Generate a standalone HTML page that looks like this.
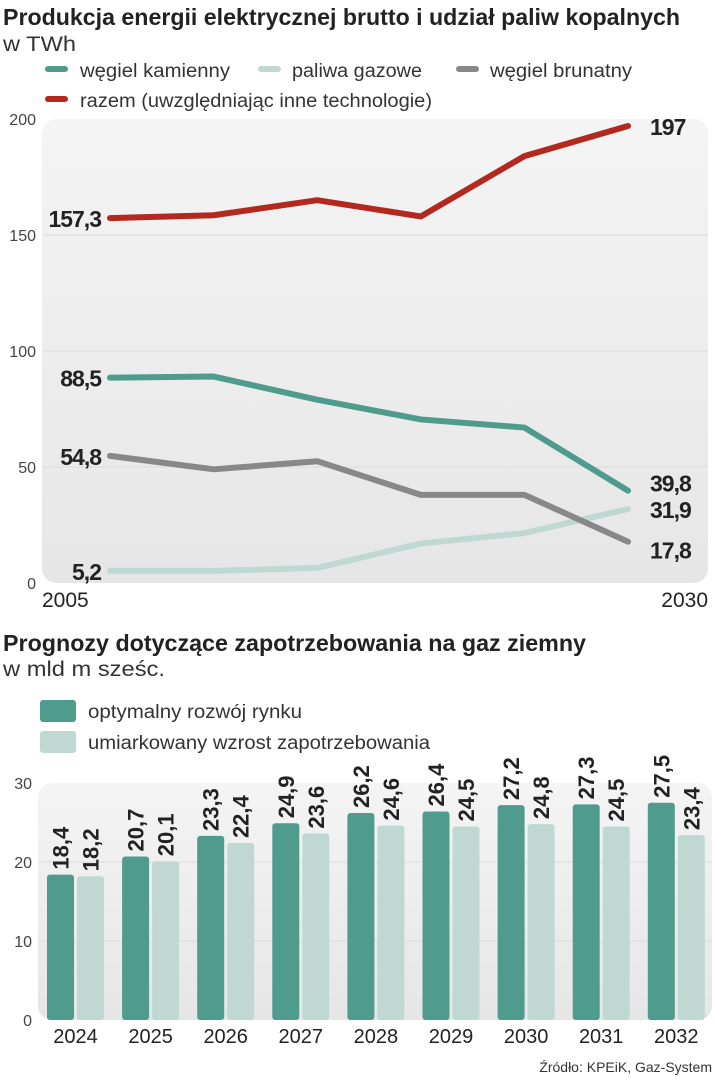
<!DOCTYPE html>
<html><head><meta charset="utf-8"><style>
html,body{margin:0;padding:0;background:#fff}
svg{display:block;font-family:"Liberation Sans",sans-serif}
</style></head><body>
<svg id="s" width="715" height="1080" viewBox="0 0 715 1080" xmlns="http://www.w3.org/2000/svg">
<defs>
<linearGradient id="bg" x1="0" y1="0" x2="0" y2="1"><stop offset="0" stop-color="#f4f4f4"/><stop offset="1" stop-color="#e6e6e6"/></linearGradient>
</defs>
<text x="3" y="25" font-size="23" font-weight="bold" fill="#222" textLength="677" lengthAdjust="spacingAndGlyphs">Produkcja energii elektrycznej brutto i udział paliw kopalnych</text>
<text x="3" y="51" font-size="21" fill="#333" textLength="73" lengthAdjust="spacingAndGlyphs">w TWh</text>
<g>
<g><line x1="48" y1="69" x2="65" y2="69" stroke="#4f9c8e" stroke-width="6" stroke-linecap="round"/><text x="80" y="77" font-size="19" fill="#333" textLength="150" lengthAdjust="spacingAndGlyphs">węgiel kamienny</text></g>
<g><line x1="261" y1="69" x2="278" y2="69" stroke="#bfd9d2" stroke-width="6" stroke-linecap="round"/><text x="292" y="77" font-size="19" fill="#333" textLength="130" lengthAdjust="spacingAndGlyphs">paliwa gazowe</text></g>
<g><line x1="459" y1="69" x2="476" y2="69" stroke="#888" stroke-width="6" stroke-linecap="round"/><text x="490" y="77" font-size="19" fill="#333" textLength="142" lengthAdjust="spacingAndGlyphs">węgiel brunatny</text></g>
<g><line x1="48" y1="99" x2="65" y2="99" stroke="#b3291f" stroke-width="6" stroke-linecap="round"/><text x="80" y="107" font-size="19" fill="#333" textLength="352" lengthAdjust="spacingAndGlyphs">razem (uwzględniając inne technologie)</text></g>
</g>
<rect x="42" y="119" width="666" height="464" rx="14" fill="url(#bg)"/>
<g id="lc"></g>
<text x="3" y="651" font-size="23" font-weight="bold" fill="#222" textLength="583" lengthAdjust="spacingAndGlyphs">Prognozy dotyczące zapotrzebowania na gaz ziemny</text>
<text x="3" y="676" font-size="21" fill="#333" textLength="162" lengthAdjust="spacingAndGlyphs">w mld m sześc.</text>
<g>
<g><rect x="40" y="700" width="36" height="22" rx="3" fill="#4f9c8e"/><text x="88" y="718" font-size="19" fill="#333" textLength="214" lengthAdjust="spacingAndGlyphs">optymalny rozwój rynku</text></g>
<g><rect x="40" y="731" width="36" height="22" rx="3" fill="#bfd9d2"/><text x="88" y="749" font-size="19" fill="#333" textLength="342" lengthAdjust="spacingAndGlyphs">umiarkowany wzrost zapotrzebowania</text></g>
</g>
<rect x="38" y="783" width="674" height="237" rx="14" fill="url(#bg)"/>
<g id="bc"></g>
<text x="712" y="1072" font-size="14" fill="#333" text-anchor="end">Źródło: KPEiK, Gaz-System</text>
</svg>
<script>
const NS="http://www.w3.org/2000/svg";
const lineYears=[2005,2010,2015,2020,2025,2030];
const razem=[157.3,158.5,165,158,184,197];
const kamienny=[88.5,89,79,70.5,67,39.8];
const brunatny=[54.8,49,52.5,38,38,17.8];
const gazowe=[5.2,5.2,6.5,17,21.5,31.9];
const lineTicks=[0,50,100,150,200];
const barYears=["2024","2025","2026","2027","2028","2029","2030","2031","2032"];
const optymalny=[18.4,20.7,23.3,24.9,26.2,26.4,27.2,27.3,27.5];
const umiarkowany=[18.2,20.1,22.4,23.6,24.6,24.5,24.8,24.5,23.4];
const barTicks=[0,10,20,30];

function mk(tag,attrs,parent,txt){const e=document.createElementNS(NS,tag);for(const k in attrs)e.setAttribute(k,attrs[k]);if(txt!=null)e.textContent=txt;parent.appendChild(e);return e;}
const fmt=v=>String(v).replace('.',',');

// line chart
const lc=document.getElementById('lc');
const lx=y=>110+(y-2005)/25*518;
const ly=v=>583-v*2.32;
lineTicks.forEach(t=>{
  if(t>0&&t<200){const g=mk('line',{x1:42,x2:708,y1:ly(t),y2:ly(t),stroke:'#dcdcdc','stroke-width':1},lc);
  
  }
  const tl=mk('text',{x:36,y:ly(t)+6,'font-size':16,fill:'#444','text-anchor':'end'},lc,String(t));
  
  
});
[[2005,'start',42],[2030,'end',708]].forEach(([y,a,x])=>{
  const t=mk('text',{x:x,y:607,'font-size':21,fill:'#222','text-anchor':a},lc,String(y));
  
  
});
const series=[[gazowe,'#bfd9d2','paliwa-gazowe',0],[brunatny,'#888','wegiel-brunatny',0],[kamienny,'#4f9c8e','wegiel-kamienny',0],[razem,'#b3291f','razem',0]];
const endOff={'razem':0,'wegiel-kamienny':-8,'paliwa-gazowe':0,'wegiel-brunatny':8};
series.forEach(([d,c,n])=>{
  const p=mk('polyline',{points:d.map((v,i)=>lx(lineYears[i])+','+ly(v)).join(' '),fill:'none',stroke:c,'stroke-width':6,'stroke-linecap':'round','stroke-linejoin':'round'},lc);
  
  
  const s=mk('text',{x:101,y:ly(d[0])+9,'font-size':23,'font-weight':'bold',fill:'#222','text-anchor':'end',transform:'',style:'letter-spacing:-1px'},lc,fmt(d[0]));
  
  
  const last=d[d.length-1];
  const e=mk('text',{x:650,y:ly(last)+9+endOff[n],'font-size':23,'font-weight':'bold',fill:'#222',style:'letter-spacing:-1px'},lc,fmt(last));
  
  
});

// bar chart
const bc=document.getElementById('bc');
const by=v=>1020-v*7.9;
const bw=27;
barTicks.forEach(t=>{
  if(t>0&&t<30){const g=mk('line',{x1:38,x2:712,y1:by(t),y2:by(t),stroke:'#dcdcdc','stroke-width':1},bc);
  
  }
  const tl=mk('text',{x:32,y:by(t)+6,'font-size':16,fill:'#444','text-anchor':'end'},bc,String(t));
  
  
});
barYears.forEach((yr,i)=>{
  const x0=47+i*75.1;
  [[optymalny[i],'#4f9c8e',x0,'optymalny'],[umiarkowany[i],'#bfd9d2',x0+30,'umiarkowany']].forEach(([v,c,x,n])=>{
    const r=mk('rect',{x:x,y:by(v),width:bw,height:1020-by(v),rx:3,fill:c},bc);
    
    
    const cx=x+bw/2+8,cy=by(v)-5;
    const t=mk('text',{x:cx,y:cy,'font-size':22,'font-weight':'bold',fill:'#222',transform:`rotate(-90 ${cx} ${cy})`},bc,fmt(v));
    
    
  });
  const t=mk('text',{x:x0+28.5,y:1043,'font-size':20,fill:'#222','text-anchor':'middle'},bc,yr);
  
  
});
</script>
</body></html>
